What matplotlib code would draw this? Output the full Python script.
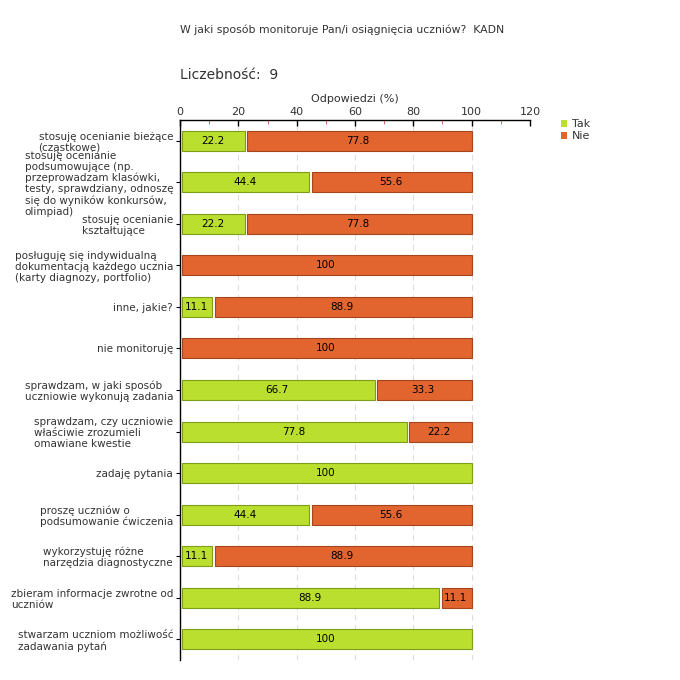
import matplotlib
matplotlib.use("Agg")
import matplotlib.pyplot as plt
import numpy as np

categories = [
    "stosuję ocenianie bieżące\n(cząstkowe)",
    "stosuję ocenianie\npodsumowujące (np.\nprzeprowadzam klasówki,\ntesty, sprawdziany, odnoszę\nsię do wyników konkursów,\nolimpiad)",
    "stosuję ocenianie\nkształtujące",
    "posługuję się indywidualną\ndokumentacją każdego ucznia\n(karty diagnozy, portfolio)",
    "inne, jakie?",
    "nie monitoruję",
    "sprawdzam, w jaki sposób\nuczniowie wykonują zadania",
    "sprawdzam, czy uczniowie\nwłaściwie zrozumieli\nomawiane kwestie",
    "zadaję pytania",
    "proszę uczniów o\npodsumowanie ćwiczenia",
    "wykorzystuję różne\nnarzędzia diagnostyczne",
    "zbieram informacje zwrotne od\nuczniów",
    "stwarzam uczniom możliwość\nzadawania pytań",
]
tak = [22.2, 44.4, 22.2, 0, 11.1, 0, 66.7, 77.8, 100, 44.4, 11.1, 88.9, 100]
nie = [77.8, 55.6, 77.8, 100, 88.9, 100, 33.3, 22.2, 0, 55.6, 88.9, 11.1, 0]
series_names = ["Tak", "Nie"]
x_ticks = [0, 20, 40, 60, 80, 100, 120]

title = "W jaki sposób monitoruje Pan/i osiągnięcia uczniów?  KADN"
count_label = "Liczebność:  9"
x_label = "Odpowiedzi (%)"

green, green_edge = "#BADF2F", "#7E9E18"
orange, orange_edge = "#E2642F", "#A5451C"
txt = "#333333"

fig = plt.figure(figsize=(6.8, 6.8), dpi=100)
ax = fig.add_axes([180/680, 20/680, 350/680, 540/680])

y = np.arange(len(categories))
h = 0.48
tak_a = np.array(tak)
nie_a = np.array(nie)
gap = 0.8
start = 0.6  # small inset from the axis line

mt = tak_a > 0
ax.barh(y[mt], tak_a[mt] - start, left=start, height=h, color=green,
        edgecolor=green_edge, linewidth=0.8, label=series_names[0], zorder=3)
mn = nie_a > 0
left_n = np.where(mt, tak_a + gap, start)
ax.barh(y[mn], (tak_a + nie_a - left_n)[mn], left=left_n[mn], height=h, color=orange,
        edgecolor=orange_edge, linewidth=0.8, label=series_names[1], zorder=3)

for i in range(len(categories)):
    if tak[i] > 0:
        ax.text(tak[i] / 2, y[i], f"{tak[i]:g}", ha="center", va="center",
                fontsize=7.5, color="black", zorder=4)
    if nie[i] > 0:
        ax.text(tak[i] + nie[i] / 2, y[i], f"{nie[i]:g}", ha="center", va="center",
                fontsize=7.5, color="black", zorder=4)

ax.set_xlim(0, 120)
ax.set_ylim(len(categories) - 0.5, -0.5)
ax.xaxis.tick_top()
ax.xaxis.set_label_position("top")
ax.set_xticks(x_ticks)
ax.set_xticks(np.arange(10, 120, 20), minor=True)
ax.tick_params(axis="x", which="major", direction="in", length=4, width=1,
               colors="black", labelcolor=txt, labelsize=8, pad=2)
ax.tick_params(axis="x", which="minor", direction="in", length=3, width=0.6,
               colors="#E05050")
ax.set_xlabel(x_label, fontsize=8, color=txt, labelpad=4)
ax.set_yticks(y)
ax.set_yticklabels(categories, fontsize=7.5, color=txt, linespacing=1.12)
ax.tick_params(axis="y", direction="out", length=3, width=0.8, colors="black",
               labelcolor=txt, pad=2)
for lab in ax.get_yticklabels():
    lab.set_multialignment("left")

ax.grid(axis="x", which="major", linestyle=(0, (5, 4)), color="#DDDDDD", linewidth=0.8, zorder=0)
for s in ["right", "bottom"]:
    ax.spines[s].set_visible(False)
ax.spines["top"].set_linewidth(1.0)
ax.spines["left"].set_linewidth(1.0)

fig.text(342/680, 1 - 30/680, title, ha="center", va="center", fontsize=7.8, color=txt)
fig.text(180/680, 1 - 75/680, count_label, ha="left", va="center", fontsize=10, color=txt)

leg = ax.legend(loc="upper left", bbox_to_anchor=(1.075, 1.01), frameon=False,
                fontsize=8, handlelength=0.6, handleheight=0.6, handletextpad=0.4,
                labelspacing=0.2, borderaxespad=0)
for t in leg.get_texts():
    t.set_color(txt)
for p in leg.get_patches():
    p.set_linewidth(0)

fig.savefig("out.png", dpi=100, facecolor="white")
